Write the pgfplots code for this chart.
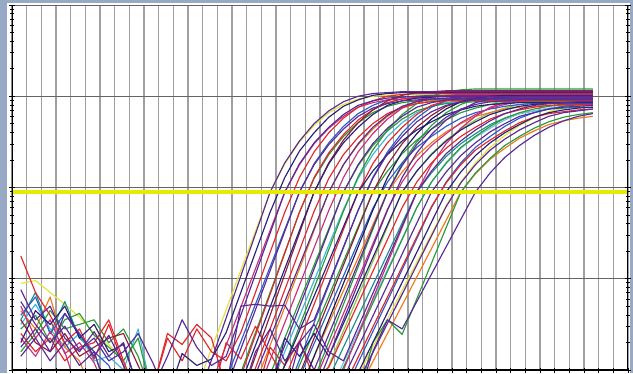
\documentclass[border=0pt]{standalone}
\usepackage{pgfplots}
\pgfplotsset{compat=1.18}
\definecolor{bgc}{HTML}{98A9C6}
\definecolor{cPurple}{HTML}{5A2A96}
\definecolor{cIndigo}{HTML}{2B1F7A}
\definecolor{cNavy}{HTML}{1E1A5A}
\definecolor{cRed}{HTML}{E0282E}
\definecolor{cGreen}{HTML}{2A9A3C}
\definecolor{cBlue}{HTML}{2E5CC8}
\definecolor{cMagenta}{HTML}{C8307E}
\definecolor{cCyan}{HTML}{40B8D8}
\definecolor{cLBlue}{HTML}{70C4E4}
\definecolor{cOrange}{HTML}{F2781E}
\definecolor{cYellow}{HTML}{E4E43A}
\definecolor{cDarkred}{HTML}{8E1F3A}
\definecolor{cTeal}{HTML}{18908C}
\definecolor{cLime}{HTML}{88C840}
\definecolor{thr}{HTML}{E8E800}
\begin{document}
\begin{tikzpicture}[x=1pt,y=1pt]
\useasboundingbox (0,0) rectangle (633,373);
\fill[bgc] (0,0) rectangle (633,373);
\fill[white] (7,0) rectangle (630,369.5);
\begin{axis}[
  at={(12pt,3pt)}, anchor=south west,
  scale only axis, width=616pt, height=365pt,
  xmin=0.4, xmax=42.4, ymin=0, ymax=4,
  xtick={0.4,1.4,...,42.4},
  ytick={0,1,2,3,4},
  minor ytick={0.301,0.477,0.602,0.699,0.778,0.845,0.903,0.954,
               1.301,1.477,1.602,1.699,1.778,1.845,1.903,1.954,
               2.301,2.477,2.602,2.699,2.778,2.845,2.903,2.954,
               3.301,3.477,3.602,3.699,3.778,3.845,3.903,3.954},
  xticklabels={}, yticklabels={},
  xtick pos=left,
  tick align=center,
  major tick length=5pt, minor tick length=4pt,
  every tick/.style={black, line width=0.9pt},
  xmajorgrids, ymajorgrids,
  major x grid style={draw={rgb,255:red,160;green,160;blue,160}, line width=1.4pt},
  major y grid style={draw={rgb,255:red,100;green,100;blue,100}, line width=0.8pt},
  axis line style={draw=none},
  every axis plot/.append style={line width=1.15pt, line join=round},
]
% C1 yellow
\addplot[cYellow] coordinates {(1,0.95)(2,0.98)(3,0.85)(4,0.72)(5,0.58)(6,0.40)(7,0.28)(8,0.10)(9,-0.3)(13,-0.2)(14,0.23)(15,0.66)(16,1.09)(17,1.52)(18,1.95)(19,2.26)(20,2.50)(21,2.68)(22,2.82)(23,2.91)(24,2.97)(25,3.00)(26,3.01)(27,3.02)(40,3.02)};
% C34 yellow
\addplot[cYellow] coordinates {(23,-0.37)(24,-0.06)(25,0.25)(26,0.56)(27,0.87)(28,1.18)(29,1.49)(30,1.80)(31,2.06)(32,2.27)(33,2.44)(34,2.57)(35,2.68)(36,2.76)(37,2.83)(38,2.87)(39,2.90)(40,2.92)};
% C31 teal
\addplot[cTeal] coordinates {(1,0.55)(2,0.85)(3,0.40)(4,0.75)(5,0.35)(6,0.20)(7,-0.3)(21,-0.43)(22,-0.09)(23,0.25)(24,0.59)(25,0.93)(26,1.27)(27,1.61)(28,1.95)(29,2.16)(30,2.34)(31,2.48)(32,2.59)(33,2.69)(34,2.76)(35,2.81)(36,2.84)(37,2.86)(38,2.87)(39,2.88)(40,2.88)};
% C17 cyan
\addplot[cCyan] coordinates {(1,0.50)(2,0.72)(3,0.45)(4,0.25)(5,0.40)(6,0.10)(7,0.15)(8,0.0)(9,0.45)(10,-0.3)(18,-0.19)(19,0.20)(20,0.59)(21,0.98)(22,1.37)(23,1.76)(24,2.10)(25,2.36)(26,2.56)(27,2.71)(28,2.82)(29,2.89)(30,2.93)(31,2.95)(32,2.96)(40,2.96)};
% C45 light blue
\addplot[cLBlue] coordinates {(22,-0.26)(23,0.08)(24,0.42)(25,0.76)(26,1.10)(27,1.44)(28,1.78)(29,2.06)(30,2.26)(31,2.43)(32,2.55)(33,2.65)(34,2.74)(35,2.81)(36,2.84)(37,2.87)(38,2.89)(39,2.90)(40,2.90)};
% C28 lime
\addplot[cLime] coordinates {(21,-0.33)(22,0.05)(23,0.43)(24,0.81)(25,1.19)(26,1.57)(27,1.95)(28,2.18)(29,2.37)(30,2.52)(31,2.64)(32,2.74)(33,2.82)(34,2.87)(35,2.91)(36,2.93)(37,2.94)(38,2.95)(40,2.95)};
% C13 orange
\addplot[cOrange] coordinates {(1,0.65)(2,0.45)(3,0.80)(4,0.25)(5,0.10)(6,-0.3)(17,-0.15)(18,0.27)(19,0.69)(20,1.11)(21,1.53)(22,1.95)(23,2.25)(24,2.47)(25,2.64)(26,2.78)(27,2.87)(28,2.92)(29,2.95)(30,2.96)(31,2.97)(40,2.97)};
% C25 orange
\addplot[cOrange] coordinates {(20,-0.21)(21,0.15)(22,0.51)(23,0.87)(24,1.23)(25,1.59)(26,1.95)(27,2.17)(28,2.35)(29,2.49)(30,2.61)(31,2.70)(32,2.78)(33,2.82)(34,2.86)(35,2.88)(36,2.89)(37,2.90)(40,2.90)};
% C39 orange
\addplot[cOrange] coordinates {(24,-0.22)(25,0.09)(26,0.40)(27,0.71)(28,1.02)(29,1.33)(30,1.64)(31,1.95)(32,2.15)(33,2.31)(34,2.43)(35,2.54)(36,2.62)(37,2.69)(38,2.73)(39,2.76)(40,2.78)};
% C9 green
\addplot[cGreen] coordinates {(1,0.45)(2,0.60)(3,0.30)(4,0.55)(5,0.62)(6,0.38)(7,0.25)(8,0.10)(9,0.35)(10,-0.3)(15,-0.47)(16,-0.03)(17,0.41)(18,0.85)(19,1.29)(20,1.73)(21,2.10)(22,2.36)(23,2.56)(24,2.71)(25,2.82)(26,2.89)(27,2.93)(28,2.95)(29,2.96)(40,2.96)};
% C15 green
\addplot[cGreen] coordinates {(1,0.20)(2,0.40)(3,0.65)(4,0.45)(5,0.50)(6,0.55)(7,0.30)(8,0.45)(9,0.15)(10,-0.3)(17,-0.45)(18,-0.05)(19,0.35)(20,0.75)(21,1.15)(22,1.55)(23,1.95)(24,2.24)(25,2.46)(26,2.62)(27,2.75)(28,2.84)(29,2.89)(30,2.92)(31,2.93)(32,2.94)(40,2.94)};
% C41 green high
\addplot[cGreen] coordinates {(18,-0.36)(19,0.06)(20,0.48)(21,0.90)(22,1.32)(23,1.74)(24,2.12)(25,2.41)(26,2.63)(27,2.80)(28,2.92)(29,3.00)(30,3.05)(31,3.07)(32,3.08)(40,3.08)};
% C21 green
\addplot[cGreen] coordinates {(19,-0.33)(20,0.05)(21,0.43)(22,0.81)(23,1.19)(24,1.57)(25,1.95)(26,2.18)(27,2.37)(28,2.52)(29,2.64)(30,2.74)(31,2.82)(32,2.87)(33,2.91)(34,2.93)(35,2.94)(36,2.95)(40,2.95)};
% C49 green
\addplot[cGreen] coordinates {(20,-0.51)(21,-0.10)(22,0.31)(23,0.72)(24,1.13)(25,1.54)(26,1.95)(27,2.26)(28,2.50)(29,2.68)(30,2.82)(31,2.91)(32,2.97)(33,3.00)(34,3.01)(35,3.02)(40,3.02)};
% C32 green
\addplot[cGreen] coordinates {(22,-0.32)(23,0.03)(24,0.38)(25,0.73)(26,1.08)(27,1.43)(28,1.78)(29,2.06)(30,2.27)(31,2.44)(32,2.56)(33,2.67)(34,2.76)(35,2.82)(36,2.86)(37,2.89)(38,2.91)(39,2.92)(40,2.92)};
% C37 green
\addplot[cGreen] coordinates {(24,-0.3)(25,0.30)(26,0.55)(27,0.39)(28,0.78)(29,1.17)(30,1.56)(31,1.95)(32,2.16)(33,2.32)(34,2.46)(35,2.56)(36,2.65)(37,2.72)(38,2.77)(39,2.80)(40,2.82)};
% C8 blue
\addplot[cBlue] coordinates {(1,0.60)(2,0.80)(3,0.40)(4,0.62)(5,0.38)(6,0.20)(7,0.05)(8,-0.3)(14,-0.51)(15,-0.10)(16,0.31)(17,0.72)(18,1.13)(19,1.54)(20,1.95)(21,2.26)(22,2.49)(23,2.67)(24,2.81)(25,2.90)(26,2.96)(27,2.99)(28,3.00)(29,3.01)(40,3.01)};
% C43 blue
\addplot[cBlue] coordinates {(19,-0.30)(20,0.11)(21,0.52)(22,0.93)(23,1.34)(24,1.75)(25,2.11)(26,2.39)(27,2.60)(28,2.76)(29,2.88)(30,2.95)(31,3.00)(32,3.02)(33,3.03)(40,3.03)};
% C23 blue
\addplot[cBlue] coordinates {(19,-0.45)(20,-0.08)(21,0.29)(22,0.66)(23,1.03)(24,1.40)(25,1.77)(26,2.06)(27,2.27)(28,2.44)(29,2.56)(30,2.67)(31,2.76)(32,2.82)(33,2.86)(34,2.89)(35,2.91)(36,2.92)(40,2.92)};
% C50 blue
\addplot[cBlue] coordinates {(23,-0.26)(24,0.08)(25,0.42)(26,0.76)(27,1.10)(28,1.44)(29,1.78)(30,2.06)(31,2.27)(32,2.44)(33,2.56)(34,2.67)(35,2.76)(36,2.82)(37,2.86)(38,2.89)(39,2.91)(40,2.92)};
% C5 magenta
\addplot[cMagenta] coordinates {(1,0.70)(2,0.35)(3,0.55)(4,0.18)(5,0.30)(6,0.08)(7,-0.3)(14,-0.15)(15,0.27)(16,0.69)(17,1.11)(18,1.53)(19,1.95)(20,2.25)(21,2.48)(22,2.65)(23,2.78)(24,2.88)(25,2.93)(26,2.96)(27,2.97)(28,2.98)(40,2.98)};
% C14 magenta
\addplot[cMagenta] coordinates {(1,0.35)(2,0.15)(3,0.42)(4,0.20)(5,-0.3)(17,-0.30)(18,0.11)(19,0.52)(20,0.93)(21,1.34)(22,1.75)(23,2.11)(24,2.39)(25,2.59)(26,2.75)(27,2.87)(28,2.95)(29,2.99)(30,3.01)(31,3.02)(40,3.02)};
% C26 magenta
\addplot[cMagenta] coordinates {(21,-0.14)(22,0.24)(23,0.62)(24,1.00)(25,1.38)(26,1.76)(27,2.06)(28,2.29)(29,2.46)(30,2.59)(31,2.71)(32,2.80)(33,2.87)(34,2.91)(35,2.94)(36,2.96)(37,2.97)(40,2.97)};
% C47 magenta
\addplot[cMagenta] coordinates {(22,-0.39)(23,0.00)(24,0.39)(25,0.78)(26,1.17)(27,1.56)(28,1.95)(29,2.25)(30,2.48)(31,2.65)(32,2.78)(33,2.88)(34,2.93)(35,2.96)(36,2.97)(37,2.98)(40,2.98)};
% C6 red
\addplot[cRed] coordinates {(1,1.25)(2,0.85)(3,0.60)(4,0.30)(5,0.45)(6,0.12)(7,0.50)(8,0.05)(9,-0.4)(10,-0.2)(11,0.35)(12,0.10)(13,0.45)(14,0.20)(15,0.10)(16,0.41)(17,0.85)(18,1.29)(19,1.73)(20,2.11)(21,2.39)(22,2.60)(23,2.76)(24,2.88)(25,2.95)(26,3.00)(27,3.02)(28,3.03)(40,3.03)};
% C48 red
\addplot[cRed] coordinates {(15,-0.52)(16,-0.07)(17,0.38)(18,0.83)(19,1.28)(20,1.73)(21,2.11)(22,2.38)(23,2.58)(24,2.74)(25,2.85)(26,2.93)(27,2.97)(28,2.99)(29,3.00)(40,3.00)};
% C11 red
\addplot[cRed] coordinates {(1,0.40)(2,0.20)(3,0.35)(4,0.10)(5,0.25)(6,0.30)(7,0.55)(8,0.10)(9,-0.3)(10,-0.2)(11,0.40)(12,0.28)(13,0.50)(14,0.35)(15,-0.2)(16,-0.41)(17,0.02)(18,0.45)(19,0.88)(20,1.31)(21,1.74)(22,2.10)(23,2.36)(24,2.55)(25,2.70)(26,2.81)(27,2.88)(28,2.92)(29,2.94)(30,2.95)(40,2.95)};
% C18 red
\addplot[cRed] coordinates {(14,-0.3)(15,0.30)(16,0.12)(17,0.48)(18,0.18)(19,-0.10)(20,0.31)(21,0.72)(22,1.13)(23,1.54)(24,1.95)(25,2.26)(26,2.49)(27,2.66)(28,2.80)(29,2.90)(30,2.95)(31,2.98)(32,2.99)(33,3.00)(40,3.00)};
% C29 red
\addplot[cRed] coordinates {(17,-0.3)(18,0.25)(19,0.05)(20,0.32)(21,-0.10)(22,0.03)(23,0.38)(24,0.73)(25,1.08)(26,1.43)(27,1.78)(28,2.06)(29,2.27)(30,2.43)(31,2.56)(32,2.66)(33,2.75)(34,2.81)(35,2.85)(36,2.88)(37,2.90)(38,2.91)(40,2.91)};
% C35 red
\addplot[cRed] coordinates {(23,-0.19)(24,0.14)(25,0.47)(26,0.80)(27,1.13)(28,1.46)(29,1.79)(30,2.05)(31,2.25)(32,2.41)(33,2.52)(34,2.62)(35,2.71)(36,2.77)(37,2.81)(38,2.83)(39,2.85)(40,2.86)};
% C42 dark red
\addplot[cDarkred] coordinates {(16,-0.30)(17,0.15)(18,0.60)(19,1.05)(20,1.50)(21,1.95)(22,2.27)(23,2.52)(24,2.71)(25,2.85)(26,2.95)(27,3.01)(28,3.04)(29,3.05)(30,3.06)(40,3.06)};
% C22 dark red
\addplot[cDarkred] coordinates {(1,0.55)(2,0.30)(3,0.20)(4,0.40)(5,0.15)(6,0.25)(7,0.35)(8,0.40)(9,0.05)(10,-0.3)(19,-0.45)(20,-0.05)(21,0.35)(22,0.75)(23,1.15)(24,1.55)(25,1.95)(26,2.25)(27,2.48)(28,2.66)(29,2.79)(30,2.89)(31,2.94)(32,2.97)(33,2.98)(34,2.99)(40,2.99)};
% C3 indigo
\addplot[cIndigo] coordinates {(11,-0.3)(12,0.18)(13,0.05)(14,0.12)(15,0.41)(16,0.85)(17,1.29)(18,1.73)(19,2.11)(20,2.40)(21,2.60)(22,2.77)(23,2.89)(24,2.96)(25,3.01)(26,3.03)(27,3.04)(40,3.04)};
% C10 indigo
\addplot[cIndigo] coordinates {(1,0.30)(2,0.65)(3,0.50)(4,0.70)(5,0.35)(6,0.50)(7,0.20)(8,0.28)(9,-0.2)(16,-0.15)(17,0.27)(18,0.69)(19,1.11)(20,1.53)(21,1.95)(22,2.26)(23,2.49)(24,2.66)(25,2.80)(26,2.90)(27,2.95)(28,2.98)(29,2.99)(30,3.00)(40,3.00)};
% C19 indigo
\addplot[cIndigo] coordinates {(18,-0.33)(19,0.05)(20,0.43)(21,0.81)(22,1.19)(23,1.57)(24,1.95)(25,2.18)(26,2.36)(27,2.51)(28,2.63)(29,2.72)(30,2.80)(31,2.85)(32,2.89)(33,2.91)(34,2.92)(35,2.93)(40,2.93)};
% C27 indigo
\addplot[cIndigo] coordinates {(18,-0.3)(19,0.35)(20,0.15)(21,0.40)(22,0.15)(23,0.51)(24,0.87)(25,1.23)(26,1.59)(27,1.95)(28,2.18)(29,2.36)(30,2.51)(31,2.63)(32,2.72)(33,2.80)(34,2.85)(35,2.89)(36,2.91)(37,2.92)(38,2.93)(40,2.93)};
% C36 indigo
\addplot[cIndigo] coordinates {(23,-0.36)(24,-0.03)(25,0.30)(26,0.63)(27,0.96)(28,1.29)(29,1.62)(30,1.95)(31,2.17)(32,2.35)(33,2.49)(34,2.60)(35,2.69)(36,2.77)(37,2.82)(38,2.85)(39,2.87)(40,2.88)};
% C46 navy
\addplot[cNavy] coordinates {(20,-0.25)(21,0.15)(22,0.55)(23,0.95)(24,1.35)(25,1.75)(26,2.11)(27,2.39)(28,2.59)(29,2.75)(30,2.86)(31,2.94)(32,2.98)(33,3.00)(34,3.01)(40,3.01)};
% C2 purple
\addplot[cPurple] coordinates {(1,0.88)(2,0.55)(3,0.70)(4,0.35)(5,0.20)(6,0.42)(7,0.15)(8,0.30)(9,-0.2)(13,-0.35)(14,0.11)(15,0.57)(16,1.03)(17,1.49)(18,1.95)(19,2.27)(20,2.51)(21,2.70)(22,2.84)(23,2.94)(24,3.00)(25,3.03)(26,3.04)(27,3.05)(40,3.05)};
% C4 purple
\addplot[cPurple] coordinates {(10,-0.2)(11,0.15)(12,0.55)(13,0.25)(14,0.05)(15,0.15)(16,0.60)(17,1.05)(18,1.50)(19,1.95)(20,2.26)(21,2.49)(22,2.66)(23,2.80)(24,2.90)(25,2.95)(26,2.98)(27,2.99)(28,3.00)(40,3.00)};
% C7 purple
\addplot[cPurple] coordinates {(1,0.15)(2,0.35)(3,0.10)(4,0.30)(5,0.05)(6,0.20)(7,-0.3)(15,-0.20)(16,0.23)(17,0.66)(18,1.09)(19,1.52)(20,1.95)(21,2.25)(22,2.47)(23,2.64)(24,2.78)(25,2.87)(26,2.92)(27,2.95)(28,2.96)(29,2.97)(40,2.97)};
% C12 purple
\addplot[cPurple] coordinates {(1,0.75)(2,0.50)(3,0.30)(4,0.48)(5,0.22)(6,0.35)(7,0.10)(8,0.20)(9,0.40)(10,0.08)(11,-0.3)(16,-0.45)(17,-0.05)(18,0.35)(19,0.75)(20,1.15)(21,1.55)(22,1.95)(23,2.25)(24,2.48)(25,2.66)(26,2.79)(27,2.89)(28,2.94)(29,2.97)(30,2.98)(31,2.99)(40,2.99)};
% C16 purple
\addplot[cPurple] coordinates {(1,0.25)(2,0.45)(3,0.20)(4,0.62)(5,0.40)(6,0.15)(7,0.38)(8,0.05)(9,-0.3)(18,-0.15)(19,0.27)(20,0.69)(21,1.11)(22,1.53)(23,1.95)(24,2.25)(25,2.48)(26,2.65)(27,2.78)(28,2.88)(29,2.93)(30,2.96)(31,2.97)(32,2.98)(40,2.98)};
% C20 purple
\addplot[cPurple] coordinates {(15,-0.2)(16,0.70)(17,0.72)(18,0.70)(19,0.71)(20,0.45)(21,0.55)(22,0.95)(23,1.35)(24,1.75)(25,2.10)(26,2.37)(27,2.56)(28,2.72)(29,2.83)(30,2.90)(31,2.94)(32,2.96)(33,2.97)(40,2.97)};
% C24 purple
\addplot[cPurple] coordinates {(16,-0.3)(17,0.20)(18,0.45)(19,0.10)(20,0.30)(21,0.00)(22,0.39)(23,0.78)(24,1.17)(25,1.56)(26,1.95)(27,2.24)(28,2.47)(29,2.64)(30,2.77)(31,2.86)(32,2.91)(33,2.94)(34,2.95)(35,2.96)(40,2.96)};
% C44 purple
\addplot[cPurple] coordinates {(21,-0.25)(22,0.15)(23,0.55)(24,0.95)(25,1.35)(26,1.75)(27,2.11)(28,2.38)(29,2.58)(30,2.74)(31,2.85)(32,2.93)(33,2.97)(34,2.99)(35,3.00)(40,3.00)};
% C30 purple
\addplot[cPurple] coordinates {(19,-0.3)(20,0.30)(21,0.50)(22,0.20)(23,0.10)(24,0.47)(25,0.84)(26,1.21)(27,1.58)(28,1.95)(29,2.18)(30,2.37)(31,2.51)(32,2.63)(33,2.73)(34,2.81)(35,2.86)(36,2.90)(37,2.92)(38,2.93)(39,2.94)(40,2.94)};
% C33 purple
\addplot[cPurple] coordinates {(22,-0.43)(23,-0.09)(24,0.25)(25,0.59)(26,0.93)(27,1.27)(28,1.61)(29,1.95)(30,2.17)(31,2.35)(32,2.49)(33,2.61)(34,2.70)(35,2.78)(36,2.82)(37,2.86)(38,2.88)(39,2.89)(40,2.90)};
% C38 purple
\addplot[cPurple] coordinates {(24,-0.13)(25,0.19)(26,0.51)(27,0.83)(28,1.15)(29,1.47)(30,1.79)(31,2.05)(32,2.25)(33,2.41)(34,2.53)(35,2.63)(36,2.71)(37,2.78)(38,2.82)(39,2.84)(40,2.86)};
% C40 purple
\addplot[cPurple] coordinates {(24,-0.3)(25,0.20)(26,0.55)(27,0.45)(28,0.75)(29,1.05)(30,1.35)(31,1.65)(32,1.95)(33,2.16)(34,2.33)(35,2.46)(36,2.57)(37,2.66)(38,2.73)(39,2.78)(40,2.81)};
% threshold
\addplot[thr, line width=4pt] coordinates {(0.4,1.95)(42.4,1.95)};
% frame lines
\draw[black, line width=1.6pt] (rel axis cs:0,0) -- (rel axis cs:0,1);
\draw[black, line width=1.6pt] (rel axis cs:1,0) -- (rel axis cs:1,1);
\draw[black, line width=1.6pt] (rel axis cs:0,0) -- (rel axis cs:1,0);
\end{axis}
\end{tikzpicture}
\end{document}
